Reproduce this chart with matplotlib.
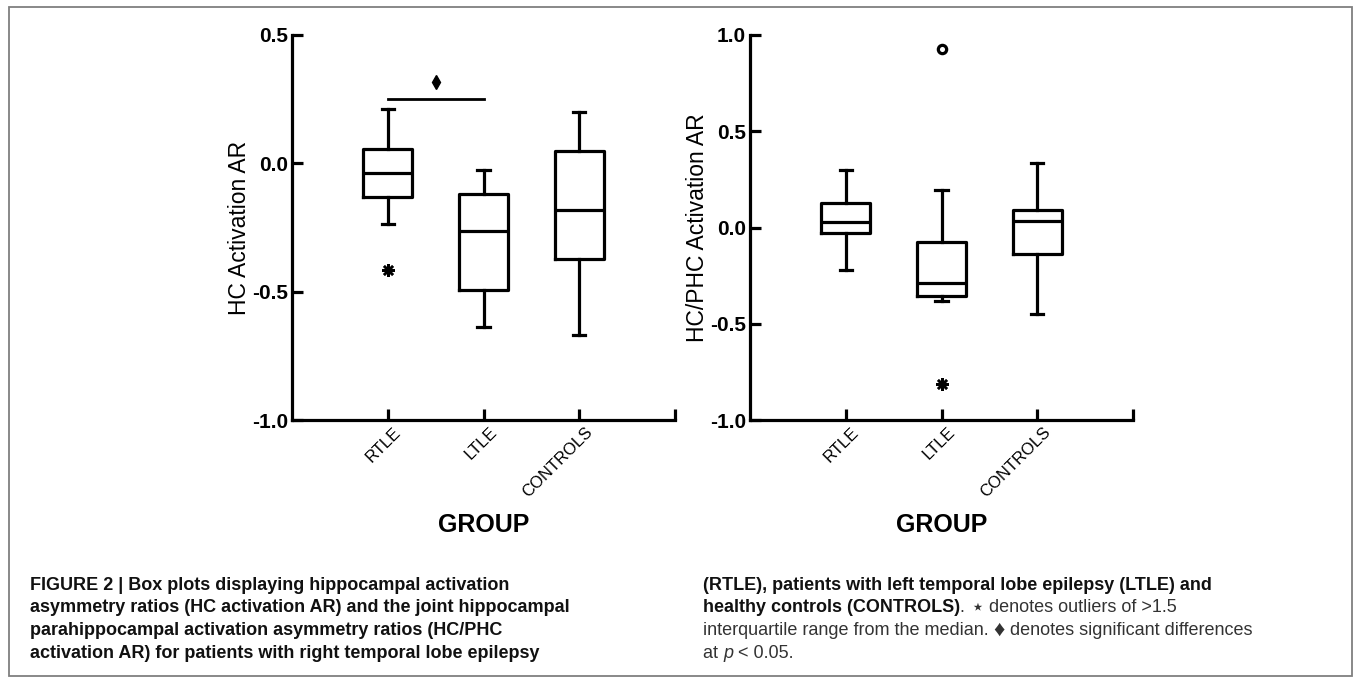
import matplotlib
matplotlib.use("Agg")
import matplotlib.pyplot as plt
import matplotlib.transforms as mtransforms
from matplotlib.patches import Rectangle

plt.rcParams['font.family'] = ['Liberation Sans', 'DejaVu Sans']
plt.rcParams['axes.unicode_minus'] = False

# Данні
groups = ["RTLE", "LTLE", "CONTROLS"]

# HC activation AR: нижній вус, Q1, медіана, Q3, верхній вус
hc_whislo = [-0.238, -0.637, -0.669]
hc_q1 = [-0.130, -0.494, -0.371]
hc_med = [-0.036, -0.264, -0.180]
hc_q3 = [0.055, -0.121, 0.048]
hc_whishi = [0.210, -0.026, 0.200]
hc_star = [[-0.414], [], []]
hc_circle = [[], [], []]

# HC/PHC activation AR
phc_whislo = [-0.222, -0.383, -0.450]
phc_q1 = [-0.026, -0.355, -0.140]
phc_med = [0.031, -0.288, 0.033]
phc_q3 = [0.128, -0.076, 0.090]
phc_whishi = [0.298, 0.194, 0.333]
phc_star = [[], [-0.811], []]
phc_circle = [[], [0.927], []]

# значуща різниця RTLE vs LTLE на лівій панелі
sig_pair = (1, 2)
sig_level = 0.25
sig_mark = 0.315

LW = 2.3


def draw_panel(ax, whislo, q1, med, q3, whishi, stars, circles, yticks, ylabel):
    stats = []
    for i in range(len(groups)):
        stats.append({"whislo": whislo[i], "q1": q1[i], "med": med[i],
                      "q3": q3[i], "whishi": whishi[i], "fliers": []})
    ax.bxp(stats, positions=[1, 2, 3], widths=0.51, capwidths=0.13,
           showfliers=False,
           boxprops=dict(color="black", linewidth=LW),
           medianprops=dict(color="black", linewidth=LW),
           whiskerprops=dict(color="black", linewidth=LW),
           capprops=dict(color="black", linewidth=LW))
    for i in range(len(groups)):
        for v in stars[i]:
            ax.plot(i + 1, v, marker=(8, 2, 0), ms=9, mew=1.8, color="black",
                    clip_on=False)
        for v in circles[i]:
            ax.plot(i + 1, v, marker="o", ms=6, mew=2.3, mfc="white",
                    mec="black", clip_on=False)

    ax.set_xlim(0, 4)
    ax.set_ylim(yticks[0], yticks[-1])
    ax.set_yticks(yticks)
    ax.set_yticklabels(["%.1f" % v for v in yticks])
    ax.set_xticks([1, 2, 3, 4])
    ax.set_xticklabels(groups + [""])
    for s in ["top", "right"]:
        ax.spines[s].set_visible(False)
    for s in ["left", "bottom"]:
        ax.spines[s].set_linewidth(LW)
    ax.tick_params(axis="both", direction="in", width=LW)
    ax.tick_params(axis="y", length=8, pad=3, labelsize=15)
    ax.tick_params(axis="x", length=8, pad=4, labelsize=12)
    for lab in ax.get_yticklabels():
        lab.set_fontweight("bold")
    offset = mtransforms.ScaledTranslation(11 / 100, -4 / 100, ax.figure.dpi_scale_trans)
    for lab in ax.get_xticklabels():
        lab.set_rotation(45)
        lab.set_ha("right")
        lab.set_va("center")
        lab.set_rotation_mode("anchor")
        lab.set_transform(lab.get_transform() + offset)
    ax.set_ylabel(ylabel, fontsize=16.5)
    ax.yaxis.set_label_coords(-0.107, 0.5)
    ax.set_xlabel("GROUP", fontsize=18, fontweight="bold")
    ax.xaxis.label.set_va("center")
    ax.xaxis.set_label_coords(0.5, -0.273)


fig = plt.figure(figsize=(13.55, 6.83), dpi=100)
fig.patches.append(Rectangle((9 / 1355, 1 - 676 / 683), 1343 / 1355, 669 / 683,
                             transform=fig.transFigure, fill=False,
                             edgecolor="#7f7f7f", linewidth=1.3))

ax1 = fig.add_axes([292 / 1355, 1 - 420 / 683, 383 / 1355, 385 / 683])
ax2 = fig.add_axes([750 / 1355, 1 - 420 / 683, 383 / 1355, 385 / 683])

draw_panel(ax1, hc_whislo, hc_q1, hc_med, hc_q3, hc_whishi, hc_star, hc_circle,
           [-1.0, -0.5, 0.0, 0.5], "HC Activation AR")
draw_panel(ax2, phc_whislo, phc_q1, phc_med, phc_q3, phc_whishi, phc_star, phc_circle,
           [-1.0, -0.5, 0.0, 0.5, 1.0], "HC/PHC Activation AR")

ax1.plot(sig_pair, [sig_level, sig_level], color="black", linewidth=2)
ax1.plot(sum(sig_pair) / 2, sig_mark, marker="d", ms=7, color="black")

# Підпис до рисунка
left_lines = [
    "FIGURE 2 | Box plots displaying hippocampal activation",
    "asymmetry ratios (HC activation AR) and the joint hippocampal",
    "parahippocampal activation asymmetry ratios (HC/PHC",
    "activation AR) for patients with right temporal lobe epilepsy",
]
right_lines = [
    [("(RTLE), patients with left temporal lobe epilepsy (LTLE) and", "bold", "normal", 13)],
    [("healthy controls (CONTROLS)", "bold", "normal", 13),
     (". ", "normal", "normal", 13), ("\u22c6", "normal", "normal", 16),
     (" denotes outliers of >1.5", "normal", "normal", 13)],
    [("interquartile range from the median. ", "normal", "normal", 13),
     ("\u2666", "normal", "normal", 16),
     (" denotes significant differences", "normal", "normal", 13)],
    [("at ", "normal", "normal", 13), ("p", "normal", "italic", 13),
     (" < 0.05.", "normal", "normal", 13)],
]
line_y = [585, 607.7, 630.3, 653]
cap_size = 13

for txt, y in zip(left_lines, line_y):
    fig.text(30 / 1355, 1 - y / 683, txt, fontsize=cap_size, fontweight="bold",
             va="center", ha="left", color="#111111")

fig.canvas.draw()
renderer = fig.canvas.get_renderer()
for segs, y in zip(right_lines, line_y):
    x = 703 / 1355
    for s, w, st, fs in segs:
        t = fig.text(x, 1 - y / 683, s, fontsize=fs, fontweight=w, fontstyle=st,
                     va="center", ha="left",
                     color="#111111" if w == "bold" else "#333333")
        bb = t.get_window_extent(renderer=renderer)
        x = bb.x1 / fig.bbox.width

fig.savefig("out.png", dpi=100)
